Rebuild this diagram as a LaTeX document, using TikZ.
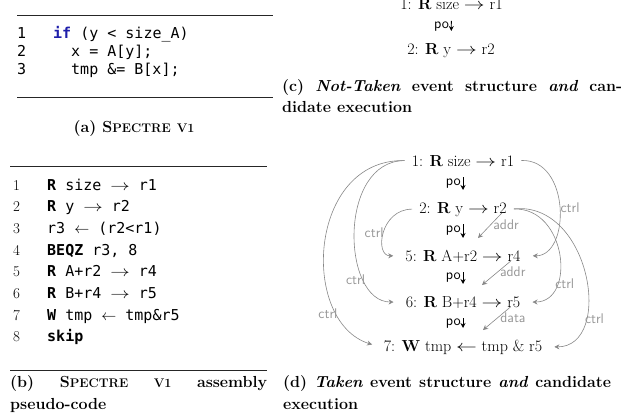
\RequirePackage{fix-cm}
\documentclass[tikz,border=0pt]{standalone}
\usepackage{fontspec}
\usepackage{graphicx}
\setmonofont{DejaVu Sans Mono}
\usetikzlibrary{arrows.meta,calc}
\definecolor{kwblue}{RGB}{30,30,170}
\definecolor{ctrlgray}{RGB}{135,135,135}
\definecolor{lblgray}{RGB}{150,150,150}
\newcommand\SpecName{S{\fontsize{12.5}{15}\selectfont PECTRE}}
\newcommand\SpecVone{{\fontsize{12.5}{15}\selectfont V1}}
\newcommand\rarr{\scalebox{1.3}[1]{$\rightarrow$}}
\newcommand\larr{\scalebox{1.3}[1]{$\leftarrow$}}
\begin{document}
\begin{tikzpicture}[x=1pt,y=-1pt,
  evt/.style={anchor=base, inner sep=4pt, font=\fontsize{16}{19}\selectfont},
  codeline/.style={anchor=base west, inner sep=0pt, font=\ttfamily\fontsize{15}{18}\selectfont},
  lnum/.style={anchor=base west, inner sep=0pt, font=\ttfamily\fontsize{15}{18}\selectfont},
  lnumb/.style={anchor=base west, inner sep=0pt, font=\fontsize{15}{18}\selectfont},
  captxt/.style={anchor=base west, inner sep=0pt, font=\bfseries\fontsize{16}{19}\selectfont},
  rel/.style={draw=ctrlgray, line width=0.6pt, -{Stealth[length=5pt,width=5pt]}, shorten <=3pt, shorten >=8pt},
  reldep/.style={draw=ctrlgray, line width=0.6pt, -{Stealth[length=5pt,width=5pt]}},
  rlab/.style={text=lblgray, font=\sffamily\fontsize{14}{16}\selectfont, inner sep=2pt},
  poarr/.style={draw=black, line width=0.8pt, -{Stealth[length=5pt,width=5pt]}, shorten <=11pt, shorten >=23pt},
  polab/.style={font=\sffamily\fontsize{14.5}{16}\selectfont, inner sep=2pt, left},
  hrule/.style={line width=0.8pt, draw=black!85}
]
\useasboundingbox (0,0) rectangle (639,418);

% ---------- (a) ----------
\draw[hrule] (17,15) -- (273,15);
\draw[hrule] (17,97) -- (273,97);
\node[lnum] (an1) at (17,38.3) {1};
\node[lnum] (an2) at (17,56.7) {2};
\node[lnum] (an3) at (17,74) {3};
\node[codeline] (a1) at (53,38.3) {\textcolor{kwblue}{\bfseries if} (y < size\_A)};
\node[codeline] (a2) at (71,56.7) {x = A[y];};
\node[codeline] (a3) at (71,74) {tmp \&= B[x];};
\node[captxt, anchor=base] (capa) at (134,132) {(a) \SpecName\ \SpecVone};

% ---------- (b) ----------
\draw[hrule] (10,166) -- (267,166);
\draw[hrule] (10,370) -- (267,370);
\node[lnumb] (bn1) at (13,190) {1};
\node[lnumb] (bn2) at (13,211.7) {2};
\node[lnumb] (bn3) at (13,233.3) {3};
\node[lnumb] (bn4) at (13,255) {4};
\node[lnumb] (bn5) at (13,276.7) {5};
\node[lnumb] (bn6) at (13,298.5) {6};
\node[lnumb] (bn7) at (13,320) {7};
\node[lnumb] (bn8) at (13,341) {8};
\node[codeline] (b1) at (47,190) {\textbf{R} size \rarr\ r1};
\node[codeline] (b2) at (47,211.7) {\textbf{R} y \rarr\ r2};
\node[codeline] (b3) at (47,233.3) {r3 $\leftarrow$ (r2<r1)};
\node[codeline] (b4) at (47,255) {\textbf{BEQZ} r3, 8};
\node[codeline] (b5) at (47,276.7) {\textbf{R} A+r2 \rarr\ r4};
\node[codeline] (b6) at (47,298.5) {\textbf{R} B+r4 \rarr\ r5};
\node[codeline] (b7) at (47,320) {\textbf{W} tmp $\leftarrow$ tmp\&r5};
\node[codeline] (b8) at (47,341) {\textbf{skip}};
\node[captxt] (capb1) at (10,387) {\hbox to 257pt{(b) \SpecName\ \SpecVone\ assembly}};
\node[captxt] (capb2) at (10,409) {pseudo-code};

% ---------- (c) ----------
\node[evt] (c1) at (451.5,9.8) {1: \textbf{R} size \rarr\ r1};
\node[evt] (c2) at (451,54) {2: \textbf{R} y \rarr\ r2};
\draw[poarr] (c1.base) -- node[polab,pos=0.37]{po} (c2.base);
\node[captxt] (capc1) at (282,91) {\hbox to 340pt{(c) \textit{Not-Taken} event structure \textit{and} can-}};
\node[captxt] (capc2) at (282,112) {didate execution};

% ---------- (d) ----------
\node[evt] (d1) at (463,166) {1: \textbf{R} size \rarr\ r1};
\node[evt] (d2) at (463,213) {2: \textbf{R} y \rarr\ r2};
\node[evt] (d5) at (463,261) {5: \textbf{R} A+r2 \rarr\ r4};
\node[evt] (d6) at (463,307) {6: \textbf{R} B+r4 \rarr\ r5};
\node[evt] (d7) at (463,351) {7: \textbf{W} tmp \larr\ tmp \& r5};

\draw[poarr] (d1.base) -- node[polab,pos=0.37]{po} (d2.base);
\draw[poarr] (d2.base) -- node[polab,pos=0.37]{po} (d5.base);
\draw[poarr] (d5.base) -- node[polab,pos=0.37]{po} (d6.base);
\draw[poarr] (d6.base) -- node[polab,pos=0.37]{po} (d7.base);

% ctrl, left
\draw[rel] (d1.west) .. controls +(-100,-2) and +(-80,-25) .. node[rlab,pos=0.78,left]{ctrl} (d7.west);
\draw[rel] (d1.west) .. controls +(-70,0) and +(-60,0) .. node[rlab,pos=0.75,left]{ctrl} (d6.west);
\draw[rel] (d2.west) .. controls +(-35,0) and +(-27,0) .. node[rlab,pos=0.5,left,inner sep=1pt]{ctrl} (d5.west);
% ctrl, right
\draw[rel] (d1.east) .. controls +(52,-2) and +(46,0) .. node[rlab,pos=0.5,right]{ctrl} (d5.east);
\draw[rel] (d2.east) .. controls +(56,-2) and +(52,0) .. node[rlab,pos=0.72,right,inner sep=1pt]{ctrl} (d6.east);
\draw[rel] (d2.east) .. controls +(80,-8) and +(68,0) .. node[rlab,pos=0.72,right]{ctrl} (d7.east);

% addr / data
\draw[reldep] ([xshift=-9pt]d2.base east) -- node[rlab,right,pos=0.45]{addr} ([xshift=15pt,yshift=23pt]d5.base);
\draw[reldep] ([xshift=-14pt]d5.base east) -- node[rlab,right,pos=0.45]{addr} ([xshift=19pt,yshift=22pt]d6.base);
\draw[reldep] ([xshift=-14pt]d6.base east) -- node[rlab,right,pos=0.45]{data} ([xshift=20pt,yshift=21pt]d7.base);

\node[captxt] (capd1) at (283,387) {\hbox to 328pt{(d) \textit{Taken} event structure \textit{and} candidate}};
\node[captxt] (capd2) at (283,409) {execution};
\end{tikzpicture}
\end{document}
